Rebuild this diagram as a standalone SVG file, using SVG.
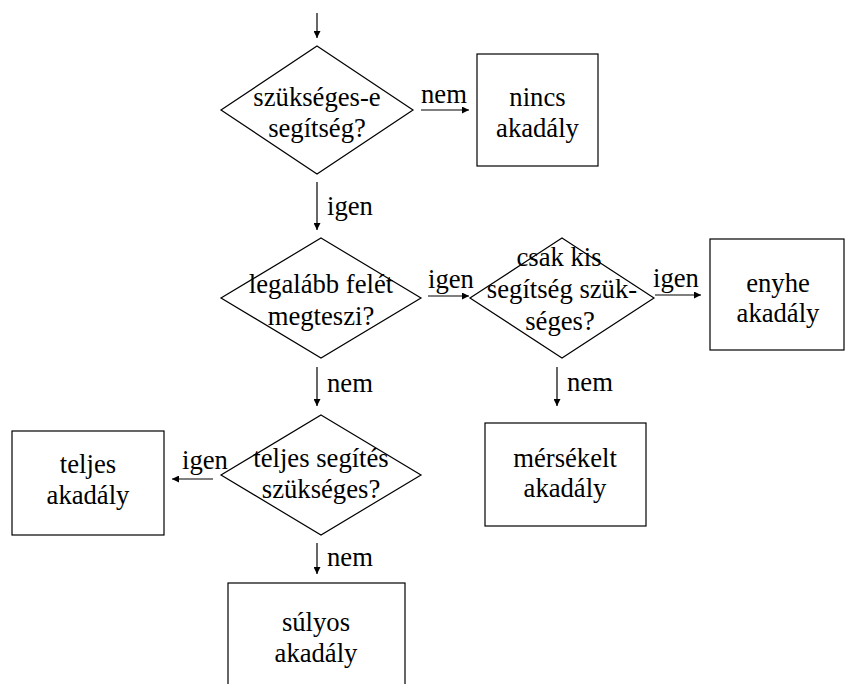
<svg xmlns="http://www.w3.org/2000/svg" width="846" height="684" viewBox="0 0 846 684" font-family="Times New Roman, Liberation Serif, serif" font-size="26.67">
<defs>
<marker id="ah" viewBox="0 0 10 10" refX="10" refY="5" markerWidth="7" markerHeight="7" markerUnits="userSpaceOnUse" orient="auto">
<path d="M0,0 L10,5 L0,10 Z" fill="#000"/>
</marker>
</defs>
<rect width="846" height="684" fill="#fff"/>
<g id="connectors" stroke="#000" stroke-width="1.2" fill="none" marker-end="url(#ah)">
<line x1="317" y1="13" x2="317" y2="38"/>
<line x1="421" y1="110" x2="469" y2="110"/>
<line x1="317" y1="182" x2="317" y2="230"/>
<line x1="428" y1="296" x2="469" y2="296"/>
<line x1="317" y1="367" x2="317" y2="406"/>
<line x1="655" y1="295" x2="701" y2="295"/>
<line x1="557" y1="367" x2="557" y2="406"/>
<line x1="213" y1="479" x2="172" y2="479"/>
<line x1="317" y1="543" x2="317" y2="574"/>
</g>
<g id="labels" font-family="Times New Roman, Liberation Serif, serif">
<text font-family="Times New Roman" x="421" y="103">nem</text>
<text font-family="Times New Roman" x="327" y="215">igen</text>
<text font-family="Times New Roman" x="428" y="288">igen</text>
<text font-family="Times New Roman" x="327" y="392">nem</text>
<text font-family="Times New Roman" x="653" y="287">igen</text>
<text font-family="Times New Roman" x="567" y="391">nem</text>
<text font-family="Times New Roman" x="182" y="469">igen</text>
<text font-family="Times New Roman" x="327" y="566">nem</text>
</g>
<g id="d1">
<polygon fill="#fff" stroke="#000" stroke-width="1.2" points="317,46 413,110 317,174 221,110"/>
<text font-family="Times New Roman" text-anchor="middle" x="317" y="106">szükséges-e</text>
<text font-family="Times New Roman" text-anchor="middle" x="317" y="137">segítség?</text>
</g>
<g id="nincs">
<rect fill="#fff" stroke="#000" stroke-width="1.2" x="477" y="54" width="121" height="112"/>
<text font-family="Times New Roman" text-anchor="middle" x="537.5" y="106">nincs</text>
<text font-family="Times New Roman" text-anchor="middle" x="537.5" y="137">akadály</text>
</g>
<g id="d2">
<polygon fill="#fff" stroke="#000" stroke-width="1.2" points="321,238 421,298 321,358 221,298"/>
<text font-family="Times New Roman" text-anchor="middle" x="321" y="293">legalább felét</text>
<text font-family="Times New Roman" text-anchor="middle" x="321" y="325">megteszi?</text>
</g>
<g id="d3">
<polygon fill="#fff" stroke="#000" stroke-width="1.2" points="562,238 654,298 562,358 470,298"/>
<text font-family="Times New Roman" text-anchor="middle" x="559" y="266">csak kis</text>
<text font-family="Times New Roman" text-anchor="middle" x="562" y="298">segítség szük-</text>
<text font-family="Times New Roman" text-anchor="middle" x="560" y="330">séges?</text>
</g>
<g id="enyhe">
<rect fill="#fff" stroke="#000" stroke-width="1.2" x="710" y="239" width="134" height="111"/>
<text font-family="Times New Roman" text-anchor="middle" x="778" y="292">enyhe</text>
<text font-family="Times New Roman" text-anchor="middle" x="778" y="322">akadály</text>
</g>
<g id="d4">
<polygon fill="#fff" stroke="#000" stroke-width="1.2" points="321,415 421,475 321,535 221,475"/>
<text font-family="Times New Roman" text-anchor="middle" x="321" y="467">teljes segítés</text>
<text font-family="Times New Roman" text-anchor="middle" x="321" y="498">szükséges?</text>
</g>
<g id="teljes">
<rect fill="#fff" stroke="#000" stroke-width="1.2" x="12" y="431" width="152" height="104"/>
<text font-family="Times New Roman" text-anchor="middle" x="88" y="473">teljes</text>
<text font-family="Times New Roman" text-anchor="middle" x="88" y="504">akadály</text>
</g>
<g id="merseklet">
<rect fill="#fff" stroke="#000" stroke-width="1.2" x="485" y="423" width="161" height="103"/>
<text font-family="Times New Roman" text-anchor="middle" x="565" y="467">mérsékelt</text>
<text font-family="Times New Roman" text-anchor="middle" x="565" y="497">akadály</text>
</g>
<g id="sulyos">
<rect fill="#fff" stroke="#000" stroke-width="1.2" x="228" y="583" width="177" height="110"/>
<text font-family="Times New Roman" text-anchor="middle" x="316" y="631">súlyos</text>
<text font-family="Times New Roman" text-anchor="middle" x="316" y="662">akadály</text>
</g>
</svg>
